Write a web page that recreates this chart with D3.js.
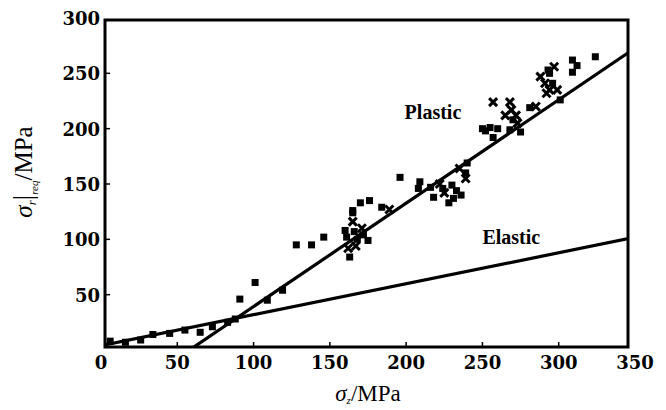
<!DOCTYPE html>
<html>
<head>
<meta charset="utf-8">
<script src="https://cdn.jsdelivr.net/npm/d3@7"></script>
<style>
body { margin: 0; background: #fff; }
text { font-family: "DejaVu Serif", "Liberation Serif", serif; fill: #000; }
</style>
</head>
<body>
<div id="chart"></div>
<script>
// axis ticks
var xTicks = [0, 50, 100, 150, 200, 250, 300, 350];
var yTicks = [50, 100, 150, 200, 250, 300];

// measured points, square markers
var squareX = [6, 16, 26, 34, 45, 55, 65, 73, 83, 88,
               101, 91, 109, 119, 128, 138, 146, 165, 161, 163,
               160, 168, 172, 175, 166, 170, 176, 165, 184, 196,
               209, 208, 216, 218, 224, 231, 233, 230, 240, 239,
               228, 236, 255, 260, 257, 268, 270, 275, 281, 294,
               296, 301, 309, 312, 324, 309, 293, 250, 252];
var squareY = [8, 7, 9, 14, 15, 18, 16, 21, 25, 28,
               61, 46, 45, 54, 95, 95, 102, 124, 102, 84,
               108, 100, 104, 99, 107, 133, 135, 126, 129, 156,
               152, 146, 147, 138, 146, 137, 144, 149, 169, 160,
               133, 140, 201, 200, 192, 199, 208, 197, 219, 250,
               241, 226, 262, 257, 265, 251, 253, 200, 198];

// measured points, cross markers
var crossX = [165, 167, 162, 171, 189, 225, 235, 239, 222, 257, 268, 269, 273, 288, 291, 299, 294, 297, 292, 265, 272, 285];
var crossY = [116, 94, 92, 110, 127, 142, 164, 155, 150, 224, 224, 217, 205, 247, 241, 235, 235, 256, 232, 212, 212, 220];

// fitted lines (end points)
var elasticX = [0, 347], elasticY = [4, 101];
var plasticX = [58, 347], plasticY = [0, 270];

var width = 666, height = 410;
var frame = {left: 105, right: 628, top: 20, bottom: 347};

var svg = d3.select("#chart").append("svg")
    .attr("width", width)
    .attr("height", height);

var x = d3.scaleLinear().domain([0, 350]).range([101, 635]);
var y = d3.scaleLinear().domain([0, 300]).range([350, 18]);

svg.append("defs").append("clipPath").attr("id", "clip")
  .append("rect")
    .attr("x", frame.left).attr("y", frame.top)
    .attr("width", frame.right - frame.left)
    .attr("height", frame.bottom - frame.top);

var plot = svg.append("g").attr("clip-path", "url(#clip)");

// lines
var line = d3.line().x(function(d) { return x(d[0]); }).y(function(d) { return y(d[1]); });
[[elasticX, elasticY], [plasticX, plasticY]].forEach(function(l) {
    plot.append("path")
        .datum(l[0].map(function(v, i) { return [v, l[1][i]]; }))
        .attr("d", line)
        .attr("fill", "none")
        .attr("stroke", "#000")
        .attr("stroke-width", 3.2);
});

// square markers
var squares = squareX.map(function(v, i) { return [v, squareY[i]]; });
plot.selectAll("rect.pt").data(squares).enter().append("rect")
    .attr("class", "pt")
    .attr("x", function(d) { return x(d[0]) - 3.5; })
    .attr("y", function(d) { return y(d[1]) - 3.5; })
    .attr("width", 7).attr("height", 7)
    .attr("fill", "#000");

// cross markers
var crosses = crossX.map(function(v, i) { return [v, crossY[i]]; });
plot.selectAll("path.cx").data(crosses).enter().append("path")
    .attr("class", "cx")
    .attr("transform", function(d) { return "translate(" + x(d[0]) + "," + y(d[1]) + ")"; })
    .attr("d", "M-4,-4L4,4M-4,4L4,-4")
    .attr("stroke", "#000")
    .attr("stroke-width", 3);

// frame
svg.append("rect")
    .attr("x", frame.left).attr("y", frame.top)
    .attr("width", frame.right - frame.left)
    .attr("height", frame.bottom - frame.top)
    .attr("fill", "none")
    .attr("stroke", "#000")
    .attr("stroke-width", 3);

// ticks (inward)
svg.selectAll("line.xt").data(xTicks.slice(1, -1)).enter().append("line")
    .attr("x1", function(d) { return x(d); }).attr("x2", function(d) { return x(d); })
    .attr("y1", frame.bottom).attr("y2", frame.bottom - 5)
    .attr("stroke", "#000").attr("stroke-width", 1.5);
svg.selectAll("line.yt").data(yTicks.slice(0, -1)).enter().append("line")
    .attr("y1", function(d) { return y(d); }).attr("y2", function(d) { return y(d); })
    .attr("x1", frame.left).attr("x2", frame.left + 5)
    .attr("stroke", "#000").attr("stroke-width", 1.5);

// tick labels
svg.selectAll("text.xl").data(xTicks).enter().append("text")
    .attr("x", function(d) { return x(d); })
    .attr("y", 369)
    .attr("text-anchor", "middle")
    .attr("font-size", 18).attr("font-weight", "bold")
    .text(function(d) { return d; });
svg.selectAll("text.yl").data(yTicks).enter().append("text")
    .attr("x", 100)
    .attr("y", function(d) { return y(d) + 7; })
    .attr("text-anchor", "end")
    .attr("font-size", 18).attr("font-weight", "bold")
    .text(function(d) { return d; });

// axis titles
var xt = svg.append("text")
    .attr("x", 368).attr("y", 401)
    .attr("text-anchor", "middle")
    .attr("font-size", 23)
    .style("font-family", "'Liberation Serif', serif");
xt.append("tspan").attr("font-style", "italic").text("σ");
xt.append("tspan").attr("font-style", "italic").attr("font-size", 11).attr("dy", 3).text("z");
xt.append("tspan").attr("dy", -3).text("/MPa");

var yt = svg.append("text")
    .attr("transform", "translate(32,172) rotate(-90)")
    .attr("text-anchor", "middle")
    .attr("font-size", 25)
    .style("font-family", "'Liberation Serif', serif");
yt.append("tspan").attr("font-style", "italic").text("σ");
yt.append("tspan").attr("font-style", "italic").attr("font-size", 13).attr("dy", 4).text("r");
yt.append("tspan").attr("dy", -4).attr("font-size", 27).text("|");
yt.append("tspan").attr("font-style", "italic").attr("font-size", 11).attr("dy", 6).text("req");
yt.append("tspan").attr("dy", -6).text("/MPa");

// line labels
svg.append("text").attr("x", x(199)).attr("y", y(209))
    .attr("font-size", 20).attr("font-weight", "bold")
    .style("font-family", "'Liberation Serif', serif")
    .text("Plastic");
svg.append("text").attr("x", x(250)).attr("y", y(96))
    .attr("font-size", 20).attr("font-weight", "bold")
    .style("font-family", "'Liberation Serif', serif")
    .text("Elastic");
</script>
</body>
</html>
